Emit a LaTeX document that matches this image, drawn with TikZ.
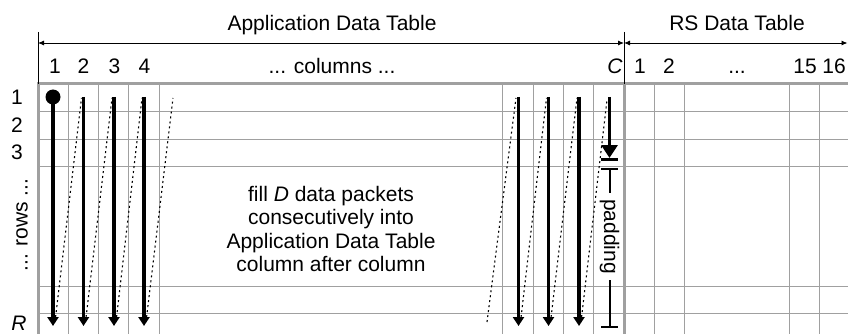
\documentclass[tikz,border=0pt]{standalone}
\usepackage{fontspec}
\setmainfont{Liberation Sans}
\usetikzlibrary{arrows.meta}
\definecolor{gridgray}{HTML}{A0A0A0}
\begin{document}
\begin{tikzpicture}[x=1pt,y=-1pt,
  lbl/.style={font=\fontsize{21}{23.5}\selectfont, inner sep=0pt},
  gridline/.style={draw=gridgray, line width=1pt},
  border/.style={draw=gridgray, line width=3pt},
  tickline/.style={draw=black, line width=0.9pt},
  dimarrow/.style={draw=black, line width=0.9pt, {Latex[length=6pt,width=5pt]}-{Latex[length=6pt,width=5pt]}},
  fillarrow/.style={draw=black, line width=3.2pt, -{Triangle[length=9pt,width=11pt]}},
  bigarrow/.style={draw=black, line width=3.2pt, -{Triangle[length=13pt,width=16pt]}},
  trail/.style={draw=black, line width=1.1pt, dash pattern=on 2pt off 3pt},
  barline/.style={draw=black, line width=3pt},
  padline/.style={draw=black, line width=2pt},
]
\useasboundingbox (0,0) rectangle (848,334);
\begin{scope}
\clip (0,0) rectangle (848,334);
% grid
\foreach \y in {111.5,139,166.5,286,313.5} \draw[gridline] (38,\y) -- (848,\y);
\foreach \x in {68.3,98.6,128.9,159.2,502.8,533.1,563.4,593.7,654.3,684.6,789,819.3} \draw[gridline] (\x,84) -- (\x,334);
\draw[border] (38,84) -- (848,84);
\draw[border] (38,82.5) -- (38,334);
\draw[border] (624,82.5) -- (624,334);

% header dimension lines
\coordinate (aL) at (38,43);
\coordinate (aM) at (624,43);
\coordinate (aR) at (847.5,43);
\draw[tickline] (38,32) -- (38,84);
\draw[tickline] (624,32) -- (624,84);
\draw[dimarrow] (aL) -- (aM);
\draw[dimarrow] (aM) -- (aR);
\node[lbl, anchor=base] (tApp) at (332,31) {Application Data Table};
\node[lbl, anchor=base] (tRS) at (737,31) {RS Data Table};

% column numbers
\node[lbl, anchor=base] (k1) at (55,74) {1};
\node[lbl, anchor=base] (k2) at (83.5,74) {2};
\node[lbl, anchor=base] (k3) at (114.5,74) {3};
\node[lbl, anchor=base] (k4) at (144.5,74) {4};
\node[lbl, anchor=base] (kdots) at (332,74) {... columns ...};
\node[lbl, anchor=base] (kC) at (615,74) {\textit{C}};
\node[lbl, anchor=base] (r1) at (640,74) {1};
\node[lbl, anchor=base] (r2) at (669,74) {2};
\node[lbl, anchor=base] (rdots) at (737,74) {...};
\node[lbl, anchor=base] (r15) at (805,74) {15};
\node[lbl, anchor=base] (r16) at (834,74) {16};

% row numbers
\node[lbl] (w1) at (17,97.7) {1};
\node[lbl] (w2) at (17,125.2) {2};
\node[lbl] (w3) at (17,152.7) {3};
\node[lbl, rotate=90] (wdots) at (22,225) {... rows ...};
\node[lbl, anchor=base] (wR) at (19,330.5) {\textit{R}};

% central text
\node[lbl, align=center] (fill) at (331,229) {fill \textit{D} data packets\\consecutively into\\Application Data Table\\column after column};

% dotted trails
\coordinate (d1b) at (55,322);   \coordinate (d1t) at (81.5,98);
\coordinate (d2b) at (85.5,322); \coordinate (d2t) at (112,98);
\coordinate (d3b) at (116,322);  \coordinate (d3t) at (142,98);
\coordinate (d4b) at (146,322);  \coordinate (d4t) at (173,98);
\coordinate (d5b) at (487,322);  \coordinate (d5t) at (516,98);
\coordinate (d6b) at (520.5,322);\coordinate (d6t) at (546.5,98);
\coordinate (d7b) at (550.5,322);\coordinate (d7t) at (577,98);
\coordinate (d8b) at (581,322);  \coordinate (d8t) at (607,100);
\foreach \i in {1,...,8} \draw[trail] (d\i b) -- (d\i t);

% fill arrows
\node[circle, fill=black, inner sep=0pt, minimum size=15pt] (dot) at (53,97) {};
\coordinate (c1b) at (53,326);
\draw[fillarrow] (dot.center) -- (c1b);
\foreach \n/\x in {2/83.5,3/114,4/144,5/518.5,6/548.5,7/579} {
  \coordinate (c\n t) at (\x,97);
  \coordinate (c\n b) at (\x,326);
  \draw[fillarrow] (c\n t) -- (c\n b);
}
\coordinate (cCt) at (609.5,97);
\coordinate (cCb) at (609.5,158);
\draw[bigarrow] (cCt) -- (cCb);
\draw[barline] (601,159.5) -- (618,159.5);

% padding
\node[lbl, rotate=-90, inner xsep=6pt] (pad) at (609.5,236.5) {padding};
\coordinate (padTop) at (609.5,169);
\coordinate (padBot) at (609.5,327);
\draw[padline] (padTop) -- (pad.west);
\draw[padline] (pad.east) -- (padBot);
\draw[barline, line width=2.5pt] (601,169) -- (618,169);
\draw[barline, line width=2.5pt] (601,327) -- (618,327);
\end{scope}
\end{tikzpicture}
\end{document}
